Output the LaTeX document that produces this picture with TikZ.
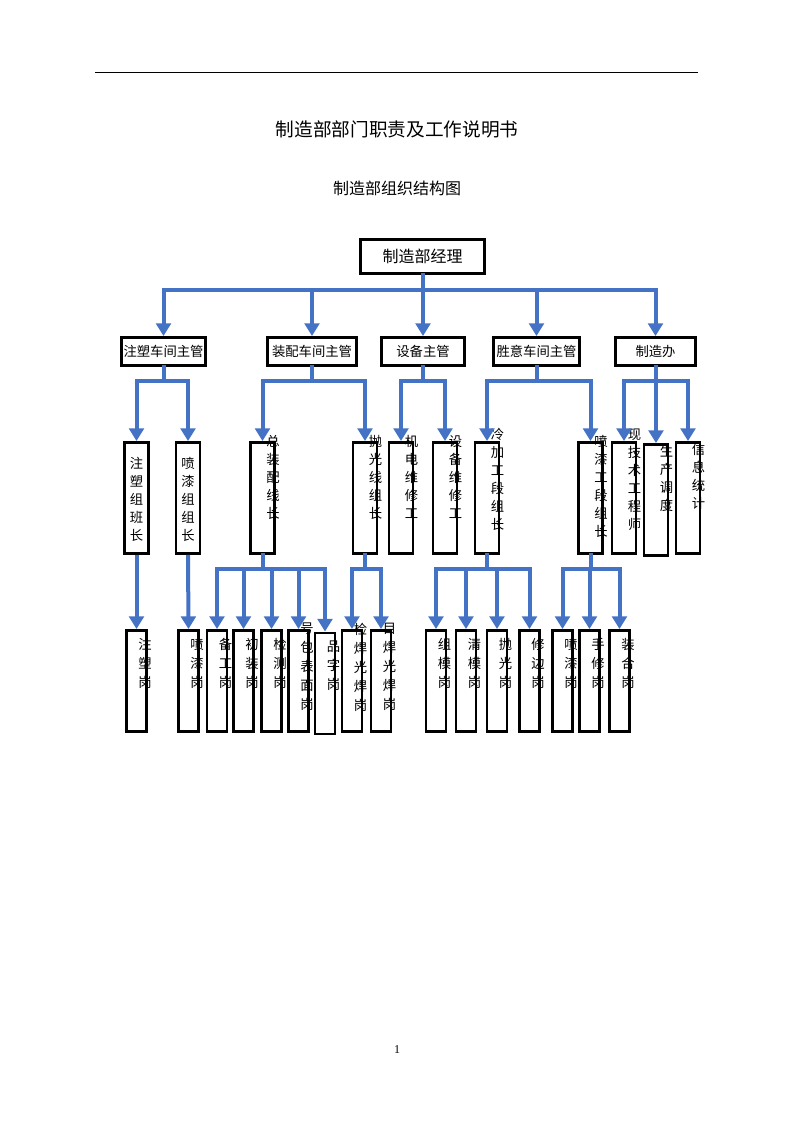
\documentclass[tikz,border=0pt]{standalone}
\usepackage{fontspec}
\setmainfont{Liberation Serif}
\newfontfamily\cjk{Noto Sans CJK SC}
\usetikzlibrary{positioning,arrows.meta,calc}
\definecolor{lineblue}{RGB}{68,114,196}

\begin{document}
\begin{tikzpicture}[x=0.75pt,y=-0.75pt,
    box/.style={draw, line width=2.2pt, inner sep=0pt, font=\cjk\fontsize{10}{12}\selectfont},
    topbox/.style={box, minimum width=93pt, minimum height=25.5pt, font=\cjk\fontsize{12}{14}\selectfont},
    headbox/.style={box, minimum height=21pt},
    vbox/.style={box, minimum width=18pt, minimum height=83.25pt},
    sbox/.style={box, minimum width=15pt, minimum height=75.75pt},
    vtxt/.style={inner sep=0pt, align=center, text width=10pt, anchor=north, font=\cjk\fontsize{10}{13.5}\selectfont},
    stxt/.style={vtxt, font=\cjk\fontsize{10}{14.25}\selectfont},
    bus/.style={draw=lineblue, line width=3pt, line cap=rect},
    arr/.style={draw=lineblue, line width=3pt, -{Triangle[length=9.5pt,width=11pt]}}]
    \useasboundingbox (0,0) rectangle (793,1122);

    \draw[line width=0.6pt] (95,72) -- (698,72);
    \node [font=\cjk\fontsize{14}{16}\selectfont] (title) at (397,129) {制造部部门职责及工作说明书};
    \node [font=\cjk\fontsize{12}{14}\selectfont] (subtitle) at (397,188) {制造部组织结构图};
    \node [font=\fontsize{9}{11}\selectfont] (pageno) at (397,1050) {1};

    \node [topbox] (mgr) at (422.5,256.5) {制造部经理};

    \node [headbox, minimum width=63pt] (zs) at (163.5,351.5) {注塑车间主管};
    \node [headbox, minimum width=66.75pt] (zp) at (312,351.5) {装配车间主管};
    \node [headbox, minimum width=62.25pt] (sb) at (423,351.5) {设备主管};
    \node [headbox, minimum width=64.5pt] (sy) at (536.5,351.5) {胜意车间主管};
    \node [headbox, minimum width=60pt] (zz) at (655.5,351.5) {制造办};

    \node [vbox] (v1) at (136.5,498) {};
    \node [vbox] (v2) at (188,498) {};
    \node [vbox] (v3) at (262.5,498) {};
    \node [vbox] (v4) at (365,498) {};
    \node [vbox] (v5) at (401,498) {};
    \node [vbox] (v6) at (445,498) {};
    \node [vbox] (v7) at (487,498) {};
    \node [vbox] (v8) at (590.5,498) {};
    \node [vbox] (v9) at (624,498) {};
    \node [vbox] (v10) at (656,500) {};
    \node [vbox] (v11) at (688,498) {};

    \node [vtxt] (t1) at ($(v1.north)+(0,16)$) {注\\塑\\组\\班\\长};
    \node [vtxt] (t2) at ($(v2.north)+(0,16)$) {喷\\漆\\组\\组\\长};
    \node [vtxt] (t3) at ($(v3.north east)+(-3,-6)$) {总\\装\\配\\线\\长};
    \node [vtxt] (t4) at ($(v4.north east)+(-3,-6)$) {抛\\光\\线\\组\\长};
    \node [vtxt] (t5) at ($(v5.north east)+(-3,-6)$) {机\\电\\维\\修\\工};
    \node [vtxt] (t6) at ($(v6.north east)+(-3,-6)$) {设\\备\\维\\修\\工};
    \node [vtxt] (t7) at ($(v7.north east)+(-3,-13)$) {冷\\加\\工\\段\\组\\长};
    \node [vtxt] (t8) at ($(v8.north east)+(-3,-6)$) {喷\\漆\\工\\段\\组\\长};
    \node [vtxt] (t9) at ($(v9.north east)+(-3,-12)$) {现\\技\\术\\工\\程\\师};
    \node [vtxt] (t10) at ($(v10.north east)+(-3,2)$) {生\\产\\调\\度};
    \node [vtxt] (t11) at ($(v11.north east)+(-3,2)$) {信\\息\\统\\计};

    \node [sbox] (c1) at (136.5,681) {};
    \node [sbox] (c2) at (188.5,681) {};
    \node [sbox] (c3) at (217,681) {};
    \node [sbox] (c4) at (243.5,681) {};
    \node [sbox] (c5) at (271.5,681) {};
    \node [sbox] (c6) at (298.5,681) {};
    \node [sbox] (c7) at (325,683.5) {};
    \node [sbox] (c8) at (352,681) {};
    \node [sbox] (c9) at (381,681) {};
    \node [sbox] (c10) at (436,681) {};
    \node [sbox] (c11) at (466,681) {};
    \node [sbox] (c12) at (497,681) {};
    \node [sbox] (c13) at (529.5,681) {};
    \node [sbox] (c14) at (562.5,681) {};
    \node [sbox] (c15) at (589.5,681) {};
    \node [sbox] (c16) at (619.5,681) {};

    \node [stxt] (s1) at ($(c1.north east)+(-3,9)$) {注\\塑\\岗};
    \node [stxt] (s2) at ($(c2.north east)+(-3,9)$) {喷\\漆\\岗};
    \node [stxt] (s3) at ($(c3.north east)+(-3,9)$) {备\\工\\岗};
    \node [stxt] (s4) at ($(c4.north east)+(-3,9)$) {初\\装\\岗};
    \node [stxt] (s5) at ($(c5.north east)+(-3,9)$) {检\\测\\岗};
    \node [stxt] (s6) at ($(c6.north east)+(-3,-6)$) {号\\包\\表\\面\\岗};
    \node [stxt] (s7) at ($(c7.north east)+(-3,9)$) {品\\字\\岗};
    \node [stxt] (s8) at ($(c8.north east)+(-3,-6)$) {检\\焊\\光\\焊\\岗};
    \node [stxt] (s9) at ($(c9.north east)+(-3,-6)$) {目\\焊\\光\\焊\\岗};
    \node [stxt] (s10) at ($(c10.north east)+(-3,9)$) {组\\模\\岗};
    \node [stxt] (s11) at ($(c11.north east)+(-3,9)$) {清\\模\\岗};
    \node [stxt] (s12) at ($(c12.north east)+(-3,9)$) {抛\\光\\岗};
    \node [stxt] (s13) at ($(c13.north east)+(-3,9)$) {修\\边\\岗};
    \node [stxt] (s14) at ($(c14.north east)+(-3,9)$) {喷\\漆\\岗};
    \node [stxt] (s15) at ($(c15.north east)+(-3,9)$) {手\\修\\岗};
    \node [stxt] (s16) at ($(c16.north east)+(-3,9)$) {装\\合\\岗};

    \coordinate (bus1) at (0,290);
    \coordinate (bus2) at (0,381);
    \coordinate (bus3) at (0,569);

    \draw [bus] (mgr.south) -- (mgr.south |- bus1);
    \draw [bus] (zs.north |- bus1) -- (zz.north |- bus1);
    \foreach \n in {zs,zp,sb,sy,zz}
        \draw [arr] (\n.north |- bus1) -- (\n.north);

    \foreach \p/\a/\b in {zs/v1/v2, zp/v3/v4, sb/v5/v6, sy/v7/v8, zz/v9/v11} {
        \draw [bus] (\p.south) -- (\p.south |- bus2);
        \draw [bus] (\a.north |- bus2) -- (\b.north |- bus2);
    }
    \foreach \n in {v1,v2,v3,v4,v5,v6,v7,v8,v9,v10,v11}
        \draw [arr] (\n.north |- bus2) -- (\n.north);

    \draw [arr] (v1.south) -- (c1.north);
    \draw [arr] (v2.south) -- (c2.north);
    \foreach \p/\a/\b in {v3/c3/c7, v4/c8/c9, v7/c10/c13, v8/c14/c16} {
        \draw [bus] (\p.south) -- (\p.south |- bus3);
        \draw [bus] (\a.north |- bus3) -- (\b.north |- bus3);
    }
    \foreach \n in {c3,c4,c5,c6,c7,c8,c9,c10,c11,c12,c13,c14,c15,c16}
        \draw [arr] (\n.north |- bus3) -- (\n.north);
\end{tikzpicture}
\end{document}
